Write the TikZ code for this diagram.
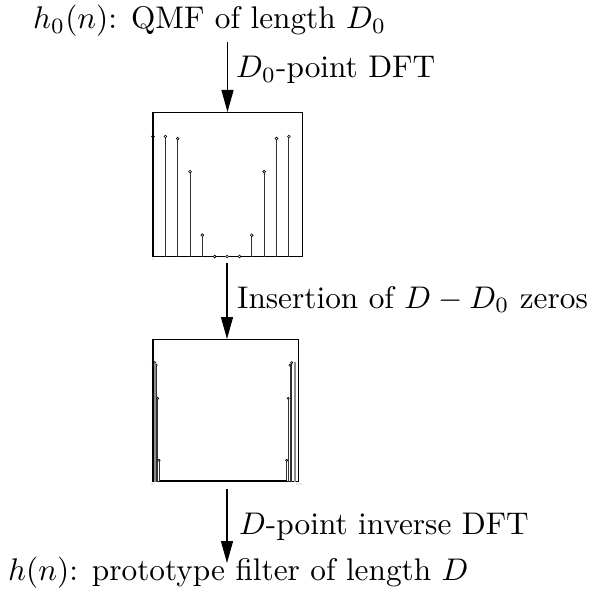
\documentclass[tikz,border=0pt]{standalone}
\usetikzlibrary{arrows.meta}
\newcommand{\bigtxt}[1]{\scalebox{3.13}{#1}}
\begin{document}
\begin{tikzpicture}[x=1pt,y=-1pt,
  lbl/.style={font=\fontsize{10}{12}\selectfont, inner sep=0pt, anchor=base west},
  flow/.style={line width=1.2pt, -{Triangle[length=22pt,width=12pt]}},
  frame/.style={draw, line width=0.9pt, inner sep=0pt, outer sep=0pt},
  stem/.style={line width=1pt, black!80},
  dot/.style={draw=black, fill=white, line width=0.6pt},
  tick/.style={font=\fontsize{3}{3}\selectfont, text=black!45, inner sep=0pt}]
\useasboundingbox (0,0) rectangle (591,596);
% texts
\node[lbl] (top) at (33,29) {\bigtxt{$h_0(n)$: QMF of length $D_0$}};
\node[lbl] (l1) at (236,78) {\bigtxt{$D_0$-point DFT}};
\node[lbl] (l2) at (237,308) {\bigtxt{Insertion of $D-D_0$ zeros}};
\node[lbl] (l3) at (239,534) {\bigtxt{$D$-point inverse DFT}};
\node[lbl] (bot) at (8,580) {\bigtxt{$h(n)$: prototype filter of length $D$}};
% box 1
\node[frame, minimum width=149pt, minimum height=144.5pt, anchor=north west] (b1) at (153,112) {};
\foreach \k/\v in {0/1,1/1,2/0.983,3/0.707,4/0.178,5/0,6/0,7/0,8/0.178,9/0.707,10/0.983,11/1}{
  \draw[stem] (153+12.35*\k,256.5) -- (153+12.35*\k,256.5-120*\v);
  \draw[dot] (153+12.35*\k,256.5-120*\v) circle (1.4pt);
}
\draw[line width=1.8pt] (b1.south west) -- (b1.north west);
\node[tick] (t0a) at (153,259.5) {0};
% box 2
\node[frame, minimum width=145pt, minimum height=142.7pt, anchor=north west] (b2) at (153.3,339) {};
\foreach \x/\v in {153.3/1,154.8/1,156.2/0.98,157.7/0.7,159.1/0.18,286.7/0.18,288.2/0.7,290/0.98,291.7/1}{
  \draw[stem] (\x,481.7) -- (\x,481.7-119*\v);
  \draw[dot] (\x,481.7-119*\v) circle (1.1pt);
}
\draw[line width=2pt, black!45] (295,481.7) -- (295,361.5);
\draw[line width=2pt, black!45] (155,481.7) -- (155,363);
\draw[line width=1.8pt] (b2.south west) -- (b2.north west);
\draw[line width=1.6pt] (160,481.2) -- (287,481.2);
\node[tick] (t0b) at (152,484.5) {0};
\node[tick] (t100) at (299,484.5) {100};
% arrows
\coordinate (a1s) at (227.5,42);
\coordinate (a2s) at (227,263);
\coordinate (a3s) at (227,489);
\coordinate (a3e) at (227,563);
\draw[flow] (a1s) -- (a1s |- b1.north);
\draw[flow] (a2s) -- (a2s |- b2.north);
\draw[flow] (a3s) -- (a3e);
\end{tikzpicture}
\end{document}
